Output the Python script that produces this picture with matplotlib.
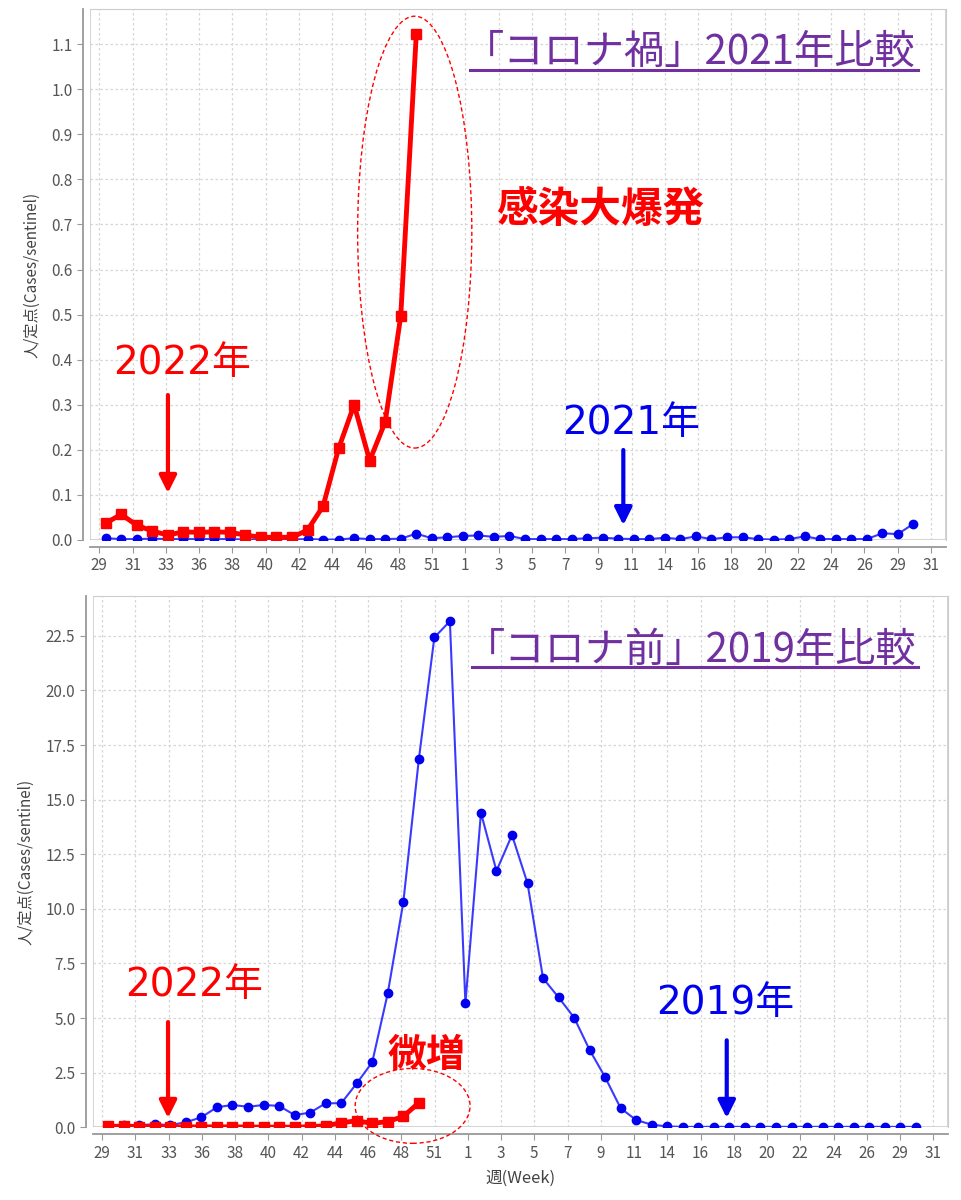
import matplotlib
matplotlib.use("Agg")
import matplotlib.pyplot as plt
from matplotlib.patches import Ellipse, Rectangle
import numpy as np

plt.rcParams['font.family'] = ['Noto Sans CJK JP', 'DejaVu Sans']

# week tick labels (category axis, 29 -> 31 of the following year)
week_labels = ["29", "31", "33", "36", "38", "40", "42", "44", "46", "48", "51", "1",
               "3", "5", "7", "9", "11", "14", "16", "18", "20", "22", "24", "26", "29", "31"]

# 2022 season, weeks 29..49
red_2022 = [0.037, 0.057, 0.033, 0.020, 0.011, 0.018, 0.017, 0.018, 0.017, 0.011,
            0.006, 0.006, 0.006, 0.022, 0.075, 0.203, 0.300, 0.176, 0.262, 0.497, 1.122]

# 2021 season (53 weeks)
blue_2021 = [0.004, 0.002, 0.002, 0.003, 0.002, 0.002, 0.002, 0.002, 0.002, 0.001,
             0.001, 0.001, 0.001, 0.002, 0.001, 0.001, 0.004, 0.002, 0.002, 0.003,
             0.014, 0.004, 0.006, 0.009, 0.010, 0.007, 0.009, 0.002, 0.002, 0.002,
             0.002, 0.004, 0.005, 0.003, 0.002, 0.002, 0.005, 0.002, 0.008, 0.002,
             0.006, 0.006, 0.002, 0.001, 0.002, 0.008, 0.002, 0.002, 0.002, 0.002,
             0.015, 0.013, 0.036]

# 2019 season (53 weeks)
blue_2019 = [0.05, 0.10, 0.10, 0.14, 0.10, 0.23, 0.46, 0.92, 1.02, 0.94,
             1.02, 0.98, 0.56, 0.67, 1.10, 1.10, 2.01, 2.98, 6.14, 10.30,
             16.85, 22.43, 23.17, 5.68, 14.40, 11.74, 13.38, 11.17, 6.82, 5.95,
             5.02, 3.54, 2.29, 0.87, 0.33, 0.12, 0.04, 0.02, 0.02, 0.02,
             0.02, 0.02, 0.02, 0.02, 0.02, 0.02, 0.02, 0.02, 0.02, 0.02,
             0.02, 0.02, 0.02]

RED = "#ff0000"
BLUE = "#0000ee"
BLUE_LINE = "#3a3aff"
PURPLE = "#7030a0"
GREY = "#555555"
YEAR_FONT = ['DejaVu Sans', 'Noto Sans CJK JP']


def style_axes(ax, ymax, yticks, fmt):
    ax.set_xlim(-1.0, 54.1)
    ax.set_ylim(0, ymax)
    ax.set_xticks(np.linspace(-0.4, 53.13, len(week_labels)))
    ax.set_xticklabels(week_labels)
    ax.set_yticks(yticks)
    ax.set_yticklabels([fmt.format(v) for v in yticks])
    ax.grid(True, linestyle=(0, (2, 2)), color="#d6d6d6", linewidth=0.9)
    ax.set_axisbelow(True)
    for s in ["top", "right"]:
        ax.spines[s].set_color("#cccccc")
    for s in ["left", "bottom"]:
        ax.spines[s].set_position(("outward", 5))
        ax.spines[s].set_color("#999999")
        ax.spines[s].set_linewidth(1.3)
    ax.add_patch(Rectangle((0, 0), 1, 1, transform=ax.transAxes, fill=False,
                           ec="#cccccc", lw=1.2, zorder=0.5))
    ax.tick_params(colors="#999999", labelcolor=GREY, labelsize=11, length=4)
    ax.set_ylabel("人/定点(Cases/sentinel)", fontsize=11, color="#444444", labelpad=8)


def title(ax, text, x, y, x0, x1, uy):
    ax.text(x, y, text, transform=ax.transAxes, ha="center", va="center",
            fontsize=29, color=PURPLE)
    ax.plot([x0, x1], [uy, uy], transform=ax.transAxes, color=PURPLE, lw=2.2,
            clip_on=False)


def year_text(ax, x, y, text, color):
    ax.text(x, y, text, transform=ax.transAxes, ha="center", va="center",
            fontsize=28, color=color, family=YEAR_FONT)


def arrow(ax, x, y0, y1, color):
    ax.annotate("", xy=(x, y1), xytext=(x, y0), xycoords="axes fraction",
                arrowprops=dict(arrowstyle="-|>", color=color, lw=3,
                                mutation_scale=26, shrinkA=0, shrinkB=0))


fig = plt.figure(figsize=(9.62, 12), dpi=100)

# ---------- top: 2022 vs 2021 ----------
ax1 = fig.add_axes([0.0936, 0.55, 0.8898, 0.4425])
x21 = np.arange(len(blue_2021))
x22 = np.arange(len(red_2022))
ax1.plot(x21, blue_2021, color=BLUE_LINE, lw=1.5, marker="o", ms=6,
         mfc=BLUE, mec=BLUE, zorder=3)
ax1.plot(x22, red_2022, color=RED, lw=3.5, marker="s", ms=7,
         mfc=RED, mec=RED, zorder=4)
style_axes(ax1, 1.178, np.round(np.arange(0, 1.15, 0.1), 1), "{:.1f}")

title(ax1, "「コロナ禍」2021年比較", 0.700, 0.919, 0.444, 0.967, 0.885)
ax1.add_patch(Ellipse((19.9, 0.683), 7.35, 0.958, fill=False, ec=RED,
                      lw=1.0, ls=(0, (3, 2)), zorder=5, clip_on=False))
ax1.text(0.596, 0.621, "感染大爆発", transform=ax1.transAxes, ha="center",
         va="center", fontsize=30, color=RED, fontweight="bold")
year_text(ax1, 0.108, 0.333, "2022年", RED)
arrow(ax1, 0.091, 0.273, 0.0885, RED)
year_text(ax1, 0.632, 0.220, "2021年", BLUE)
arrow(ax1, 0.623, 0.1695, 0.028, BLUE)

# ---------- bottom: 2022 vs 2019 ----------
ax2 = fig.add_axes([0.0964, 0.0606, 0.8894, 0.4428])
x19 = np.arange(len(blue_2019))
ax2.plot(x19, blue_2019, color=BLUE_LINE, lw=1.5, marker="o", ms=6,
         mfc=BLUE, mec=BLUE, zorder=3)
ax2.plot(x22, red_2022, color=RED, lw=3.5, marker="s", ms=7,
         mfc=RED, mec=RED, zorder=4)
style_axes(ax2, 24.33, np.arange(0, 23, 2.5), "{:.1f}")
ax2.set_xlabel("週(Week)", fontsize=12, color="#444444", labelpad=6)

title(ax2, "「コロナ前」2019年比較", 0.699, 0.898, 0.4434, 0.9646, 0.866)
ax2.add_patch(Ellipse((19.6, 0.98), 7.4, 3.43, fill=False, ec=RED,
                      lw=1.0, ls=(0, (3, 2)), zorder=5, clip_on=False))
ax2.text(0.3895, 0.136, "微増", transform=ax2.transAxes, ha="center",
         va="center", fontsize=28, color=RED, fontweight="bold")
year_text(ax2, 0.118, 0.268, "2022年", RED)
arrow(ax2, 0.088, 0.198, 0.0175, RED)
year_text(ax2, 0.739, 0.234, "2019年", BLUE)
arrow(ax2, 0.741, 0.1637, 0.0175, BLUE)

fig.savefig("out.png", dpi=100)
